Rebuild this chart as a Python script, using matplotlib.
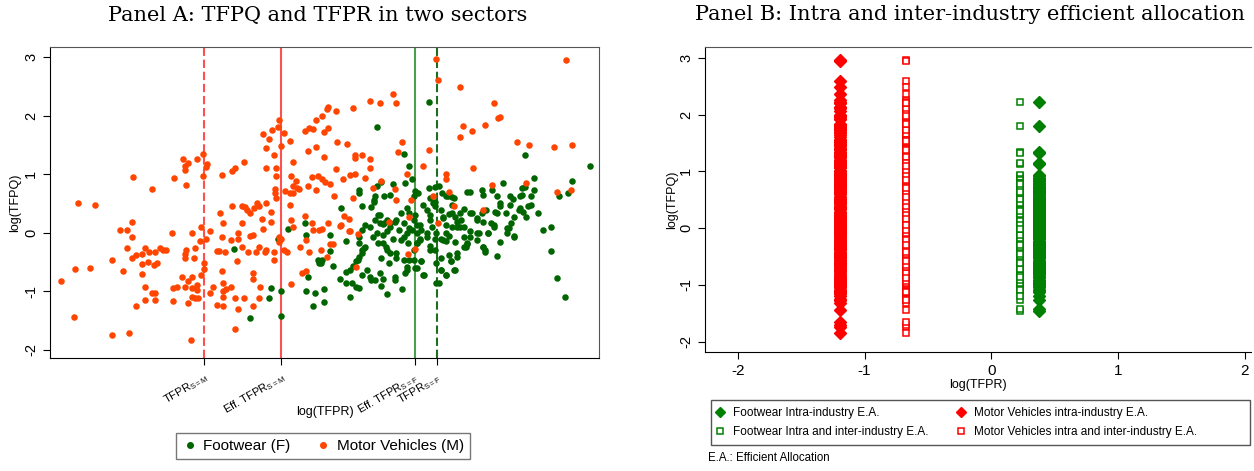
import numpy as np
import matplotlib.pyplot as plt
from matplotlib.lines import Line2D
from matplotlib.patches import Rectangle

# log(TFPR), log(TFPQ) of Motor Vehicles firms
mv_points = [
    (-2.17, -0.82), (-2.05, 0.50), (-2.07, -0.62), (-2.08, -1.44), (-1.94, 0.48), (-1.97, -0.61),
    (-1.82, -0.47), (-1.82, -1.74), (-1.77, 0.04), (-1.72, 0.04), (-1.75, -0.65), (-1.72, -0.26),
    (-1.71, -1.71), (-1.69, 0.19), (-1.69, -0.07), (-1.68, 0.95), (-1.69, -0.44), (-1.66, -0.38),
    (-1.66, -1.26), (-1.62, -0.71), (-1.62, -0.37), (-1.60, -0.26), (-1.62, -0.53), (-1.60, -0.92),
    (-1.60, -1.15), (-1.58, -0.50), (-1.57, -0.33), (-1.55, 0.75), (-1.55, -1.03), (-1.54, -0.56),
    (-1.53, -1.15), (-1.53, -0.33), (-1.53, -1.03), (-1.52, -0.52), (-1.50, -0.27), (-1.48, -0.30),
    (-1.46, -0.30), (-1.42, 0.00), (-1.41, -1.16), (-1.41, -0.94), (-1.40, 0.93), (-1.38, -0.92),
    (-1.35, -0.75), (-1.34, 1.26), (-1.33, 1.14), (-1.33, 1.07), (-1.33, -0.36), (-1.33, -0.44),
    (-1.33, -0.93), (-1.32, 0.82), (-1.32, -0.29), (-1.31, -0.83), (-1.31, -1.20), (-1.31, 1.19),
    (-1.29, -1.84), (-1.28, 0.00), (-1.28, -0.75), (-1.27, -0.44), (-1.28, -0.94), (-1.28, -1.09),
    (-1.26, -0.27), (-1.25, 1.25), (-1.25, -0.98), (-1.26, -1.12), (-1.25, -0.89), (-1.24, -1.12),
    (-1.23, -0.15), (-1.22, 0.09), (-1.22, -0.73), (-1.21, 1.34), (-1.21, 0.97), (-1.20, -0.51),
    (-1.20, -0.62), (-1.19, -0.11), (-1.19, 1.12), (-1.18, 1.18), (-1.16, 0.02), (-1.16, -1.03),
    (-1.14, -0.92), (-1.11, -1.24), (-1.11, -0.32), (-1.10, -0.31), (-1.09, 0.33), (-1.08, 0.98),
    (-1.07, 0.17), (-1.08, -0.07), (-1.08, -0.65), (-1.07, -0.86), (-1.07, -1.00), (-1.07, -1.26),
    (-1.07, -1.09), (-1.05, -0.96), (-1.06, -0.33), (-1.02, -0.12), (-1.01, 1.06), (-1.02, -0.92),
    (-1.01, 0.45), (-0.99, 1.11), (-0.99, -1.11), (-0.99, -1.65), (-0.98, -0.49), (-0.97, -0.10),
    (-0.97, 0.00), (-0.97, -1.31), (-0.94, 0.16), (-0.94, -0.24), (-0.94, 0.46), (-0.93, 1.20),
    (-0.93, -1.12), (-0.92, 0.44), (-0.91, 0.39), (-0.90, -0.33), (-0.89, -0.05), (-0.89, 0.33),
    (-0.87, -0.69), (-0.87, -0.04), (-0.87, -0.79), (-0.87, -1.26), (-0.86, 0.42), (-0.85, -0.33),
    (-0.84, 0.51), (-0.83, -0.25), (-0.83, 0.45), (-0.83, -1.12), (-0.82, -0.93), (-0.81, 0.24),
    (-0.80, 1.68), (-0.80, 0.07), (-0.79, -0.33), (-0.78, -0.30), (-0.78, 0.50), (-0.78, 1.44),
    (-0.78, 1.11), (-0.76, 1.60), (-0.75, 0.35), (-0.75, 0.18), (-0.74, 1.75), (-0.73, 1.33),
    (-0.73, -0.33), (-0.73, -0.46), (-0.72, 0.75), (-0.72, 0.67), (-0.71, 0.60), (-0.71, 0.96),
    (-0.71, 1.10), (-0.70, 1.80), (-0.69, 1.92), (-0.69, -0.08), (-0.69, -0.16), (-0.68, 1.48),
    (-0.68, -0.10), (-0.66, 1.70), (-0.66, -0.30), (-0.65, 0.71), (-0.64, -0.33), (-0.62, 0.47),
    (-0.62, 0.67), (-0.62, 1.56), (-0.61, 0.22), (-0.61, 0.96), (-0.61, -0.88), (-0.60, 0.80),
    (-0.60, 1.20), (-0.60, 0.10), (-0.60, 0.67), (-0.58, 0.88), (-0.57, 0.77), (-0.56, 0.74),
    (-0.55, -0.25), (-0.54, -0.69), (-0.52, 1.74), (-0.52, 0.28), (-0.51, -0.65), (-0.51, -0.12),
    (-0.50, 0.80), (-0.50, 1.40), (-0.49, -0.33), (-0.49, 1.79), (-0.47, 0.95), (-0.47, 0.17),
    (-0.46, 1.77), (-0.46, 0.05), (-0.44, 1.46), (-0.44, 0.72), (-0.44, 1.93), (-0.43, 0.97),
    (-0.42, 0.05),
    (-0.37, 2.11), (-0.36, 2.14), (-0.40, 1.99), (-0.39, 1.72), (-0.36, 1.79), (-0.31, 2.07),
    (-0.19, 2.12), (-0.08, 2.25), (-0.01, 2.22), (0.08, 2.37), (0.10, 2.21), (0.32, 1.41),
    (0.37, 2.96), (0.38, 2.60), (0.53, 2.48), (0.55, 1.82), (0.53, 1.64), (0.61, 1.73),
    (0.70, 1.83), (0.76, 2.21), (0.79, 1.96), (0.80, 1.98), (0.92, 1.55), (1.00, 1.50),
    (1.17, 1.46), (1.29, 1.50), (1.25, 2.94), (-0.30, 1.55), (-0.23, 1.52), (-0.39, 1.29),
    (-0.18, 1.33), (-0.18, 1.27), (-0.13, 1.32), (-0.08, 1.26), (-0.08, 1.11), (0.11, 1.38),
    (0.14, 1.54), (0.17, 1.00), (0.28, 1.14), (-0.31, 1.08), (-0.26, 0.92), (-0.21, 0.98),
    (-0.18, 1.00), (-0.11, 0.94), (-0.06, 0.76), (0.00, 0.88), (0.09, 0.74), (0.10, 0.55),
    (-0.32, 0.63), (-0.19, 0.60), (-0.35, 0.83), (-0.40, 0.92), (-0.38, 0.87), (0.44, 1.00),
    (0.44, 0.92), (0.62, 1.10), (0.75, 0.81), (0.98, 0.85), (1.19, 0.70), (1.28, 0.72),
    (0.35, 0.62), (0.46, 0.70), (0.49, 0.46), (0.69, 0.38), (0.20, 0.55), (0.05, 0.18),
    (0.19, 0.27), (0.38, 0.17), (0.23, -0.28), (0.18, -0.37), (-0.17, -0.58), (-0.25, 0.29),
    (-0.22, 0.24), (-0.28, 0.12), (-0.27, 0.13), (-0.22, 0.02), (-0.21, 0.02), (-0.16, -0.03),
    (-0.36, 0.17), (-0.40, 0.06), (-0.35, -0.19), (-0.33, -0.20), (-0.41, -0.29), (-0.37, -0.42),
]

# log(TFPR), log(TFPQ) of Footwear firms
fw_points = [
    (-1.00, -0.28), (-0.89, -1.45), (-0.75, -0.94), (-0.76, -1.12), (-0.68, -1.42), (-0.68, -0.99),
    (-0.63, 0.07), (-0.70, -0.11), (-0.52, 0.17), (-0.51, -0.04), (-0.50, -0.76), (-0.51, -1.00),
    (-0.45, -1.03), (-0.46, -1.26), (-0.43, -0.46), (-0.42, -0.51),
    (0.32, 2.23), (-0.03, 1.80), (0.15, 1.34), (0.19, 1.13), (0.21, 0.92), (0.97, 1.33),
    (1.41, 1.14), (1.29, 0.89), (1.03, 0.94), (0.82, 0.85), (0.95, 0.77), (0.97, 0.78),
    (0.00, 0.86), (0.08, 0.83), (0.16, 0.84), (-0.03, 0.79), (-0.15, 0.72), (-0.15, 0.68),
    (-0.04, 0.63), (0.06, 0.65), (0.23, 0.71), (0.25, 0.67), (0.36, 0.78), (0.39, 0.80),
    (0.41, 0.67), (0.45, 0.62), (0.49, 0.59), (0.58, 0.70), (0.60, 0.70), (0.68, 0.73),
    (0.75, 0.73), (0.78, 0.62), (0.80, 0.51), (0.87, 0.62), (0.89, 0.58), (0.94, 0.62),
    (1.01, 0.62), (1.01, 0.47), (1.20, 0.62), (1.26, 0.67), (1.06, 0.34), (1.09, 0.04),
    (1.15, 0.10), (1.15, -0.32), (1.19, -0.78), (1.24, -1.09), (0.99, 0.46), (0.93, 0.39),
    (0.90, 0.27), (0.88, 0.16), (0.85, 0.08), (0.85, -0.01), (0.90, -0.07), (0.80, -0.16),
    (0.78, -0.40), (0.69, -0.25), (0.70, -0.33), (0.72, -0.01), (0.76, 0.13), (0.78, 0.33),
    (0.69, 0.19), (0.65, 0.22), (0.61, 0.33), (0.56, 0.40), (0.53, 0.33), (0.50, 0.27),
    (0.48, 0.33), (0.51, 0.10), (0.56, 0.10), (0.60, 0.02), (0.65, -0.01), (0.56, -0.07),
    (0.58, -0.19), (0.57, -0.25), (0.50, -0.16), (0.46, -0.05), (0.44, -0.15), (0.40, -0.11),
    (0.37, -0.01), (0.34, 0.10), (0.33, 0.22), (0.31, 0.39), (0.28, 0.47), (0.35, 0.50),
    (0.40, 0.38), (0.42, 0.27), (0.44, 0.13), (0.31, -0.01), (0.27, 0.05), (0.24, 0.13),
    (0.22, 0.22), (0.19, 0.33), (0.17, 0.42), (0.13, 0.33), (0.10, 0.22), (0.06, 0.17),
    (0.02, 0.16), (-0.01, 0.31), (-0.04, 0.22), (-0.08, 0.10), (-0.11, 0.13), (-0.13, 0.05),
    (-0.15, -0.07), (-0.15, -0.18), (-0.12, -0.26), (-0.13, -0.35), (-0.16, -0.46), (-0.19, -0.57),
    (-0.21, -0.63), (-0.24, -0.67), (-0.24, -0.15), (-0.27, 0.42), (-0.35, -0.32), (-0.35, -0.04),
    (-0.33, -0.57), (-0.40, -0.46), (-0.41, -0.51), (-0.28, -0.79), (-0.24, -0.86), (-0.20, -0.86),
    (-0.15, -0.95), (-0.10, -0.63), (-0.08, -0.76), (-0.07, -0.80), (-0.01, -0.69), (0.00, -0.91),
    (0.04, -1.04), (0.09, -0.80), (0.14, -0.97), (0.16, -0.69), (0.17, -0.58), (0.19, -0.46),
    (0.22, -0.29), (0.24, -0.61), (0.29, -0.72), (0.27, -0.49), (0.37, -0.86), (0.40, -0.63),
    (0.44, -0.72), (0.47, -0.49), (0.49, -0.63), (-0.21, -1.09), (-0.39, -1.19), (-0.39, -0.97),
    (0.03, -0.24), (0.06, -0.35), (0.10, -0.44), (0.13, -0.12), (0.15, -0.07), (0.18, -0.18),
    (0.04, 0.02), (0.08, -0.11), (-0.02, -0.17), (-0.06, -0.07), (0.01, -0.04), (0.33, -0.23),
    (0.36, -0.29), (0.26, -0.11), (0.24, -0.18), (0.51, -0.35), (0.51, 0.19),
    (-0.13, 0.46), (-0.07, 0.43), (-0.05, 0.53), (-0.02, 0.30), (-0.01, 0.16), (0.01, 0.15),
    (0.04, 0.22), (0.06, 0.10), (0.09, 0.19), (0.12, 0.05), (0.15, 0.16), (0.17, -0.01),
    (0.19, 0.08), (-0.03, -0.01), (0.01, -0.18), (0.04, -0.29), (0.00, -0.44), (0.05, -0.52),
    (0.10, -0.35), (0.15, -0.46), (0.17, -0.63), (0.09, -0.75), (0.01, -0.79), (-0.04, -0.80),
    (-0.11, -0.24), (-0.13, -0.29), (-0.15, -0.41), (-0.17, -0.49), (-0.13, -0.72), (-0.17, -0.92),
    (0.02, 0.62), (-0.05, 0.55),
    (0.98, 0.27), (0.96, 0.36), (0.94, 0.42), (0.87, 0.47), (0.90, -0.05), (0.86, 0.08),
    (0.74, 0.16), (0.72, 0.00), (0.70, -0.29), (0.69, -0.24), (0.66, -0.01), (0.65, -0.12),
    (0.60, -0.07), (0.58, -0.18), (0.56, -0.24), (0.51, -0.41), (0.50, -0.63), (0.47, -0.49),
    (0.46, -0.38), (0.44, -0.72), (0.40, -0.63), (0.39, -0.86), (0.37, -0.52), (0.40, -0.44),
    (0.28, -0.72), (0.27, -0.49), (0.23, -0.61), (0.22, -0.46), (0.33, -0.29), (0.36, -0.11),
    (0.31, -0.07), (0.26, -0.12), (0.24, -0.18), (0.42, -0.12), (0.44, -0.01), (0.48, 0.10),
    (0.53, 0.10), (0.54, 0.22), (0.60, 0.33), (0.65, 0.25), (0.68, 0.33), (0.71, 0.39),
    (0.77, 0.36), (0.80, 0.45), (0.84, 0.34), (0.76, 0.10), (0.48, 0.47), (0.36, 0.45),
    (0.33, 0.30), (0.42, 0.25), (0.46, 0.32), (0.23, 0.30), (0.26, 0.13), (0.21, 0.05),
    (0.24, -0.01),
    (0.69, 0.64), (1.03, 0.72), (0.48, 0.61), (0.44, 0.62), (0.33, 0.60), (0.32, 0.77),
    (0.36, 0.52), (0.22, 0.62), (0.95, 0.64),
]

mv_tfpr = [p[0] for p in mv_points]
mv_tfpq = [p[1] for p in mv_points]
fw_tfpr = [p[0] for p in fw_points]
fw_tfpq = [p[1] for p in fw_points]

# sector TFPR levels
tfpr_m = -1.198       # actual sector TFPR, Motor Vehicles
eff_tfpr_m = -0.676   # intra+inter efficient, Motor Vehicles
eff_tfpr_f = 0.224    # intra+inter efficient, Footwear
tfpr_f = 0.374        # actual sector TFPR, Footwear

tick_vals_a = [tfpr_m, eff_tfpr_m, eff_tfpr_f, tfpr_f]
tick_labels_a = ['TFPR$_{S=M}$', 'Eff. TFPR$_{S=M}$', 'Eff. TFPR$_{S=F}$', 'TFPR$_{S=F}$']

plt.rcParams['font.family'] = ['Liberation Sans', 'DejaVu Sans']
plt.rcParams['mathtext.default'] = 'regular'
plt.rcParams['axes.unicode_minus'] = False

W, H = 1254, 471
fig = plt.figure(figsize=(W / 100, H / 100), dpi=100)
axA = fig.add_axes([50 / W, 113 / H, 549 / W, 311 / H])
axB = fig.add_axes([705 / W, 119 / H, 546 / W, 305 / H])

green = '#006400'
orange = '#ff4500'

# ---- Panel A
axA.scatter(fw_tfpr, fw_tfpq, s=22, color=green, lw=0, zorder=3)
axA.scatter(mv_tfpr, mv_tfpq, s=22, color=orange, lw=0, zorder=3)
axA.axvline(tfpr_m, color='#ff5050', ls=(0, (4, 1.8)), lw=1.5, zorder=2)
axA.axvline(eff_tfpr_m, color='#ff5050', lw=1.5, zorder=2)
axA.axvline(eff_tfpr_f, color='#4c9e4c', lw=1.5, zorder=2)
axA.axvline(tfpr_f, color='#1f6e1f', ls=(0, (4, 1.8)), lw=1.5, zorder=2)

axA.set_xlim(-2.242, 1.472)
axA.set_ylim(-2.14, 3.17)
axA.set_yticks([-2, -1, 0, 1, 2, 3])
axA.set_xticks(tick_vals_a)
axA.set_xticklabels(tick_labels_a, rotation=30, ha='right', va='top',
                    rotation_mode='anchor', fontsize=8)
axA.tick_params(axis='y', labelrotation=90, labelsize=10.5, length=5, width=0.8)
axA.tick_params(axis='x', length=5, width=0.8, pad=4)
for lab in axA.get_yticklabels():
    lab.set_va('center')
axA.set_xlabel('log(TFPR)', fontsize=9)
axA.xaxis.set_label_coords(0.5, -0.155)
axA.set_ylabel('log(TFPQ)', fontsize=9)
axA.yaxis.set_label_coords(-0.052, 0.5)
for side in ['top', 'right']:
    axA.spines[side].set_color('#555555')

handles_a = [
    Line2D([], [], ls='none', marker='o', ms=4, color=green, label='Footwear (F)'),
    Line2D([], [], ls='none', marker='o', ms=4, color=orange, label='Motor Vehicles (M)'),
]
axA.legend(handles=handles_a, loc='center', bbox_to_anchor=(0.497, -0.283), ncol=2,
           fontsize=11, frameon=True, fancybox=False, edgecolor='#555555',
           handletextpad=0.4, columnspacing=1.6, handlelength=1.0, borderpad=0.4)

fig.text(318 / W, 1 - 15 / H, 'Panel A: TFPQ and TFPR in two sectors',
         family='DejaVu Serif', fontsize=15, ha='center', va='center')

# ---- Panel B
red = '#ff0000'
green_b = '#008000'
axB.plot([tfpr_f] * len(fw_tfpq), fw_tfpq, ls='none', marker='D', ms=6, color=green_b,
         mec=green_b, zorder=3)
axB.plot([eff_tfpr_f] * len(fw_tfpq), fw_tfpq, ls='none', marker='s', ms=4, mfc='white',
         mec=green_b, mew=1.1, zorder=3)
axB.plot([tfpr_m] * len(mv_tfpq), mv_tfpq, ls='none', marker='D', ms=6, color=red,
         mec=red, zorder=3)
axB.plot([eff_tfpr_m] * len(mv_tfpq), mv_tfpq, ls='none', marker='s', ms=4, mfc='white',
         mec=red, mew=1.1, zorder=3)

axB.set_xlim(-2.26, 2.05)
axB.set_ylim(-2.18, 3.19)
axB.set_xticks([-2, -1, 0, 1, 2])
axB.set_yticks([-2, -1, 0, 1, 2, 3])
axB.tick_params(axis='y', labelrotation=90, labelsize=10.5, length=5, width=0.8)
axB.tick_params(axis='x', labelsize=11, length=5, width=0.8)
for lab in axB.get_yticklabels():
    lab.set_va('center')
axB.set_xlabel('log(TFPR)', fontsize=9, labelpad=1)
axB.set_ylabel('log(TFPQ)', fontsize=9)
axB.yaxis.set_label_coords(-0.05, 0.5)
axB.spines['top'].set_color('#555555')
axB.spines['right'].set_visible(False)

handles_b = [
    Line2D([], [], ls='none', marker='D', ms=5, color=green_b, label='Footwear Intra-industry E.A.'),
    Line2D([], [], ls='none', marker='s', ms=4, mfc='white', mec=green_b, mew=1.1,
           label='Footwear Intra and inter-industry E.A.'),
    Line2D([], [], ls='none', marker='D', ms=5, color=red, label='Motor Vehicles intra-industry E.A.'),
    Line2D([], [], ls='none', marker='s', ms=4, mfc='white', mec=red, mew=1.1,
           label='Motor Vehicles intra and inter-industry E.A.'),
]
fig.add_artist(Rectangle((711 / W, 1 - 445 / H), 539 / W, 45 / H, transform=fig.transFigure,
                         fill=False, edgecolor='#555555', lw=1.0))
fig.legend(handles=handles_b, loc='center left', ncol=2,
           bbox_to_anchor=(711 / W, 1 - 422.5 / H),
           fontsize=8.5, frameon=False, handletextpad=0.6, handlelength=1.0,
           borderaxespad=0, borderpad=0.3, labelspacing=0.55, columnspacing=2.2)
fig.text(708 / W, 1 - 458 / H, 'E.A.: Efficient Allocation', fontsize=8.3, ha='left', va='center')

fig.text(970 / W, 1 - 15 / H, 'Panel B: Intra and inter-industry efficient allocation',
         family='DejaVu Serif', fontsize=15, ha='center', va='center')

fig.savefig('out.png', dpi=100)
